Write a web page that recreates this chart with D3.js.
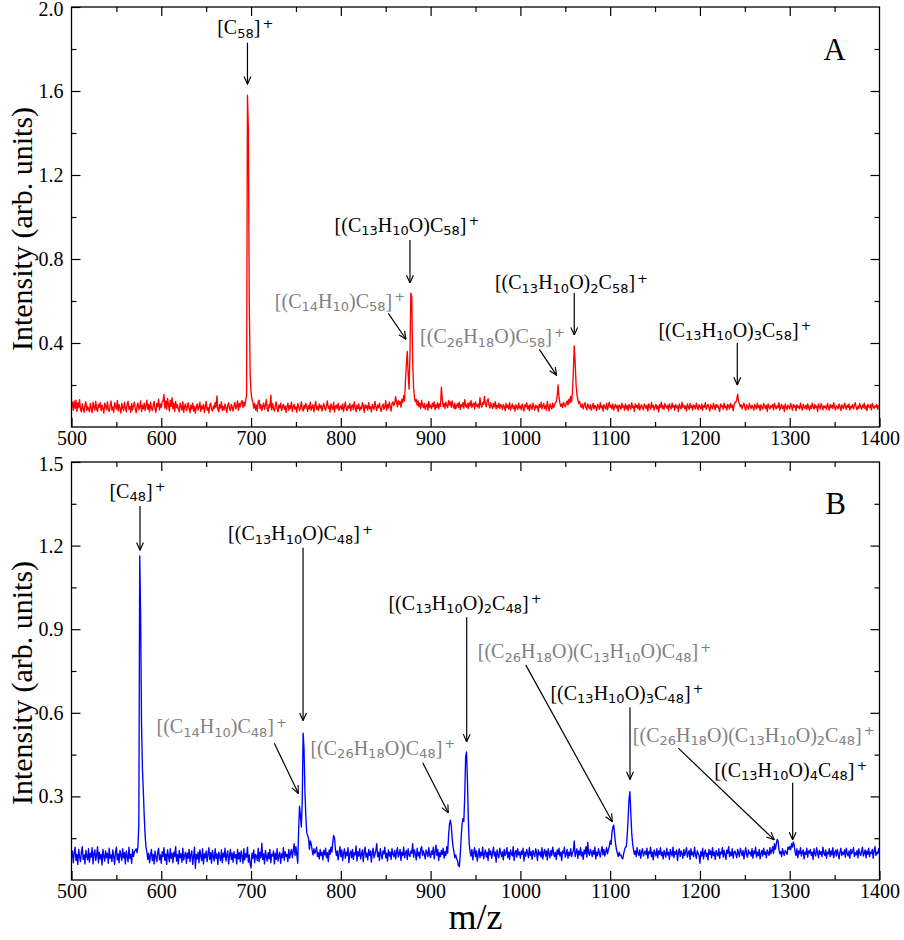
<!DOCTYPE html>
<html><head><meta charset="utf-8">
<script src="https://cdn.jsdelivr.net/npm/d3@7"></script>
<style>body{margin:0;background:#fff}</style></head>
<body><svg id="chart" width="904" height="940"></svg>
<script>
// ---------------- DATA ----------------
const MZ_START = 500;            // m/z of the first point, one point per m/z unit
// Spectrum A (red), intensity x 1e-3 (arb. units), m/z 500..1400
const intensA = [
96,118,80,124,88,128,74,115,92,130,84,72,110,88,70,105,120,78,98,86,
72,112,90,68,118,96,80,122,86,74,108,94,116,78,104,88,66,114,98,82,
120,86,74,100,124,80,96,70,116,98,84,126,76,106,90,66,112,94,78,118,
92,72,108,122,84,98,70,112,80,102,118,88,68,100,114,82,96,124,74,104,
86,114,78,98,128,84,106,72,118,92,78,102,122,88,70,112,96,132,82,110,
94,120,126,155,90,124,84,136,108,76,128,98,140,86,114,74,122,92,106,84,
72,114,98,80,120,70,100,110,78,94,116,88,68,104,86,114,76,98,66,92,
110,80,96,118,74,100,86,108,70,96,122,80,92,66,104,114,84,76,100,88,
116,94,148,84,72,106,90,120,78,98,82,110,94,70,102,116,86,78,108,94,
76,104,118,86,98,124,80,112,96,120,126,92,118,100,128,150,1580,1420,600,250,
165,132,118,90,112,82,104,74,122,128,88,108,78,98,114,84,102,130,86,74,
106,94,152,82,112,90,76,100,120,86,72,104,90,114,78,96,108,84,100,70,
94,114,80,102,88,118,74,98,108,84,96,70,112,98,78,92,120,86,76,104,
88,114,96,74,102,86,118,80,94,106,72,100,122,84,98,78,110,90,104,76,
96,112,86,80,104,124,88,100,72,110,94,84,118,72,98,104,86,114,78,94,
100,84,110,74,96,118,88,78,102,90,112,76,98,106,82,120,94,72,104,88,
110,78,96,86,116,100,70,106,90,102,80,116,88,98,72,108,94,84,122,98,
78,104,92,114,86,74,100,110,84,96,126,80,106,90,118,98,76,112,120,102,
114,145,118,96,126,108,122,94,132,116,150,124,220,300,360,250,180,350,637,620,
310,190,140,120,132,104,126,96,114,88,126,104,92,112,84,100,110,80,122,94,
104,88,114,96,120,82,106,92,116,86,110,98,190,134,96,112,88,118,102,92,
126,104,120,94,124,100,88,114,86,102,112,92,118,84,106,96,116,90,130,100,
94,112,88,116,100,126,92,108,114,86,120,102,96,110,90,140,106,94,116,108,
146,112,96,122,135,104,90,116,100,88,112,96,120,86,104,92,114,88,108,100,
84,108,98,78,112,92,104,86,116,80,96,110,88,102,76,106,94,84,114,90,
100,82,110,92,76,106,96,116,86,102,78,108,94,84,114,98,80,104,92,100,
74,108,94,118,86,100,112,88,102,80,122,96,76,110,98,86,114,92,104,116,
120,150,200,142,114,98,110,92,118,106,96,114,124,104,132,114,146,120,162,262,
386,305,205,152,132,112,122,100,94,110,86,104,116,92,82,110,98,88,106,80,
96,112,86,104,94,78,108,98,84,116,92,102,76,106,96,86,114,82,98,118,
94,104,86,110,80,98,108,90,102,74,106,96,84,114,94,100,80,110,88,102,
78,108,96,84,116,92,100,74,110,94,104,86,112,80,98,106,92,82,110,100,
88,104,76,110,96,84,116,94,104,80,98,108,86,100,72,106,94,118,88,102,
84,112,98,90,104,78,110,96,86,114,94,102,80,108,92,100,74,110,96,86,
118,94,104,88,100,76,110,96,84,112,92,102,80,106,98,86,114,94,82,106,
96,86,110,80,102,94,116,84,100,108,92,76,106,96,86,112,100,82,108,94,
104,88,74,110,96,102,84,114,92,100,80,108,98,86,112,94,104,78,106,116,
118,132,156,122,108,96,106,86,102,114,92,80,106,96,84,112,98,88,104,94,
80,108,96,86,114,92,102,78,106,94,84,112,98,88,104,74,110,96,86,102,
94,106,82,112,98,86,102,92,116,80,96,108,88,100,74,110,94,84,104,96,
86,112,98,80,108,94,102,78,106,92,100,86,114,94,80,108,96,88,104,84,
110,94,80,102,88,114,96,84,108,92,100,74,110,96,86,112,98,82,102,92,
100,84,112,96,80,108,92,104,88,116,94,82,102,96,86,110,98,78,106,94,
88,114,100,84,104,94,110,80,98,92,108,86,102,116,94,82,100,88,112,96,
84,104,94,114,86,100,78,108,96,92,106,82,112,98,88,102,94,108,84,100,
96];
// Spectrum B (blue), intensity x 1e-3 (arb. units), m/z 500..1400
const intensB = [
80,104,62,96,118,70,92,56,110,84,66,100,120,74,90,58,106,86,72,112,
64,96,82,116,58,94,108,70,88,120,62,100,76,92,54,110,86,68,104,80,
96,60,114,78,90,66,108,84,56,100,118,72,94,62,106,88,70,112,80,98,
58,104,86,66,118,78,92,60,110,84,100,106,112,98,120,200,1163,950,560,400,
320,230,160,118,100,74,96,62,88,110,70,92,58,104,82,66,98,114,72,90,
60,102,84,116,70,94,56,108,86,66,112,78,96,62,100,84,120,68,92,58,
106,80,94,64,114,72,88,100,60,96,78,110,66,90,104,56,84,118,42,92,
76,100,62,108,86,70,112,58,94,80,104,66,90,116,74,98,60,106,84,68,
112,78,94,56,100,86,70,108,62,96,82,114,68,90,104,58,88,110,74,96,
64,102,80,92,58,110,76,98,66,104,86,60,112,72,94,82,118,64,90,56,
44,96,78,108,62,92,86,70,114,66,100,80,132,74,94,58,106,84,68,98,
76,110,62,92,86,104,58,96,74,112,68,88,100,60,94,80,116,70,102,84,
92,66,110,78,96,110,80,104,130,88,120,90,60,180,265,230,190,280,527,470,
320,230,170,160,150,110,140,130,108,90,112,96,104,118,84,98,76,110,88,100,
72,106,90,114,80,98,66,108,92,118,100,134,160,150,110,88,104,72,96,120,
84,108,70,96,112,78,100,88,116,62,94,104,80,110,74,98,90,122,68,102,
86,112,76,94,108,66,100,118,82,96,72,110,88,104,64,98,114,80,92,106,
130,84,100,70,112,90,76,104,94,118,80,96,68,108,86,100,74,112,92,84,
106,76,98,116,82,94,110,70,100,88,118,80,96,106,74,112,90,84,104,96,
130,82,108,94,72,114,86,100,78,110,120,88,104,92,76,108,96,84,116,90,
80,104,92,118,76,100,125,88,110,70,98,84,106,92,114,78,102,88,120,96,
160,200,215,195,150,120,100,80,90,76,70,52,48,90,150,200,220,210,300,440,
460,360,220,130,100,86,110,72,98,116,84,104,68,92,112,80,100,88,118,76,
94,108,82,100,70,112,90,104,78,96,118,86,100,64,108,92,80,114,98,84,
102,72,110,88,96,116,80,100,74,108,94,86,120,70,98,106,82,112,90,100,
78,104,92,114,68,100,86,110,96,80,116,88,102,74,106,94,84,112,98,70,
108,90,100,82,116,76,98,110,86,104,72,112,94,80,106,88,118,96,84,100,
74,108,92,114,86,100,70,104,96,118,82,94,110,78,100,88,112,84,96,106,
140,84,98,112,78,104,90,116,86,100,74,108,94,120,82,135,96,88,110,100,
84,106,92,118,76,100,88,112,96,82,104,120,90,110,86,100,116,94,108,120,
140,128,170,190,197,160,130,110,96,84,100,88,90,80,76,94,108,118,120,160,
220,290,317,240,170,130,110,92,104,84,116,96,88,108,78,100,112,86,96,104,
90,114,78,102,94,118,84,100,72,108,96,86,112,80,104,92,116,88,100,76,
106,94,82,114,90,100,74,110,96,86,118,80,102,92,108,70,98,112,84,104,
94,78,110,88,100,116,82,96,106,74,112,90,100,84,118,92,78,104,96,88,
60,102,86,114,76,98,108,84,96,72,110,92,104,80,116,88,100,74,106,94,
86,112,78,100,94,116,82,106,90,74,108,96,120,84,100,88,112,78,98,104,
92,80,110,96,84,114,100,88,106,76,98,116,90,82,108,94,100,86,112,78,
104,94,118,82,100,88,110,76,96,106,86,114,92,100,80,108,98,88,116,94,
104,120,96,130,110,128,146,140,110,94,102,84,112,96,88,106,100,92,118,110,
120,108,130,118,137,125,100,88,112,80,104,94,116,86,98,108,76,100,92,114,
82,104,96,110,88,100,74,112,94,86,116,98,80,106,92,102,84,118,96,88,
108,78,100,94,112,84,104,90,116,80,98,106,86,110,94,76,102,114,88,100,
92,108,82,114,96,86,104,78,110,94,100,116,84,98,90,106,80,112,96,88,
102,118,86,96,108,80,104,92,114,84,100,96,110,78,106,120,88,100,94,112,
96];

const xTicks  = [500,600,700,800,900,1000,1100,1200,1300,1400];
const xMinor  = [550,650,750,850,950,1050,1150,1250,1350];
const yTicksA = [0.4,0.8,1.2,1.6,2.0];
const yMinorA = [0.2,0.6,1.0,1.4,1.8];
const yTicksB = [0.3,0.6,0.9,1.2,1.5];
const yMinorB = [0.15,0.45,0.75,1.05,1.35];
const panelNames = ["A","B"];
const xTitle = "m/z";
const yTitle = "Intensity (arb. units)";

// peak labels (text)
const labelsA = ["[C_{58}]^+","[(C_{13}H_{10}O)C_{58}]^+","[(C_{14}H_{10})C_{58}]^+",
                 "[(C_{26}H_{18}O)C_{58}]^+","[(C_{13}H_{10}O)_2C_{58}]^+","[(C_{13}H_{10}O)_3C_{58}]^+"];
const labelsB = ["[C_{48}]^+","[(C_{13}H_{10}O)C_{48}]^+","[(C_{13}H_{10}O)_2C_{48}]^+",
                 "[(C_{14}H_{10})C_{48}]^+","[(C_{26}H_{18}O)C_{48}]^+","[(C_{26}H_{18}O)(C_{13}H_{10}O)C_{48}]^+",
                 "[(C_{13}H_{10}O)_3C_{48}]^+","[(C_{26}H_{18}O)(C_{13}H_{10}O)_2C_{48}]^+","[(C_{13}H_{10}O)_4C_{48}]^+"];
const minorSpeciesA = [false,false,true,true,false,false];
const minorSpeciesB = [false,false,false,true,true,true,false,true,false];

// ---------------- LAYOUT (annotation placement in data coordinates) ----------------
// [textX, textY, arrowTailX, arrowTailY, arrowTipX, arrowTipY]
const placeA = [
  [693.5,1.871, 696,1.83, 696,1.633],
  [873.7,0.929, 877,0.890, 877,0.686],
  [799.1,0.567, 852.9,0.541, 872.6,0.418],
  [968.9,0.400, 1021.1,0.370, 1040.4,0.246],
  [1056.9,0.657, 1060,0.638, 1060,0.438],
  [1239,0.429, 1241.6,0.40, 1241.6,0.20]
];
const placeB = [
  [573.5,1.371, 576.3,1.342, 576.3,1.184],
  [755.1,1.220, 757.9,1.192, 757.9,0.572],
  [938.3,0.969, 940.2,0.943, 940.2,0.496],
  [667.3,0.527, 725.9,0.491, 752.6,0.311],
  [846.8,0.449, 891.2,0.421, 919.7,0.241],
  [1082.5,0.796, 1005.9,0.772, 1102.4,0.209],
  [1118.7,0.646, 1122.1,0.620, 1122.1,0.361],
  [1259.9,0.496, 1175.9,0.473, 1282.8,0.144],
  [1301.3,0.371, 1303.3,0.349, 1303.3,0.144]
];

const SERIF = "'Liberation Serif','Times New Roman',serif";
const svg = d3.select("#chart");
svg.append("rect").attr("width",904).attr("height",940).attr("fill","#fff");

const defs = svg.append("defs");
defs.append("marker").attr("id","ah").attr("viewBox","0 0 10 10")
  .attr("refX",9.5).attr("refY",5).attr("markerWidth",9).attr("markerHeight",9)
  .attr("markerUnits","userSpaceOnUse").attr("orient","auto")
  .append("path").attr("d","M1,1.2 L9.5,5 L1,8.8").attr("fill","none")
  .attr("stroke","#000").attr("stroke-width",1.3);

const x = d3.scaleLinear().domain([500,1400]).range([71.5,879.5]);

const panels = [
  {name:panelNames[0], top:7,   bottom:427, ymax:2.0, ticks:yTicksA, minor:yMinorA,
   data:intensA, color:"#ff0000", labels:labelsA, grey:minorSpeciesA, place:placeA, tag:[1350,1.75], ytitleY:229},
  {name:panelNames[1], top:462, bottom:880, ymax:1.5, ticks:yTicksB, minor:yMinorB,
   data:intensB, color:"#0000ff", labels:labelsB, grey:minorSpeciesB, place:placeB, tag:[1351,1.313], ytitleY:683}
];

function rich(g, str, px, py, color){
  const t = g.append("text").attr("x",px).attr("y",py).attr("text-anchor","middle")
    .attr("fill",color).style("font-family",SERIF).style("font-size","20px");
  const re = /_\{([^}]*)\}|_(.)|\^\{([^}]*)\}|\^(.)|([^_^]+)/g;
  let m, shift = 0;
  while((m = re.exec(str))){
    let txt, s = 0, small = false, dx = 0;
    if(m[1]!==undefined || m[2]!==undefined){ txt = m[1]!==undefined?m[1]:m[2]; s = 3.5; small = true; }
    else if(m[3]!==undefined || m[4]!==undefined){ txt = m[3]!==undefined?m[3]:m[4]; s = -6.5; small = true; dx = 2; }
    else txt = m[5];
    const ts = t.append("tspan").text(txt).attr("dy", s - shift);
    if(dx) ts.attr("dx", dx);
    if(small) ts.style("font-family","'DejaVu Sans',sans-serif").style("font-size","13px");
    shift = s;
  }
}

function styleAxis(g){
  g.select(".domain").remove();
  g.selectAll(".tick line").attr("stroke","#000").attr("stroke-width",1.2);
  g.selectAll("text").style("font-family",SERIF).style("font-size","20px").attr("fill","#000");
  return g;
}

panels.forEach(p => {
  const y = d3.scaleLinear().domain([0,p.ymax]).range([p.bottom,p.top]);
  const g = svg.append("g");

  // spectrum line
  const pts = p.data.map((v,i) => [MZ_START + i, v/1000]);
  g.append("path").datum(pts)
    .attr("d", d3.line().x(d=>x(d[0])).y(d=>y(d[1])))
    .attr("fill","none").attr("stroke",p.color).attr("stroke-width",1.35)
    .attr("stroke-linejoin","round");

  // axes: inward ticks on all four sides
  styleAxis(g.append("g").attr("transform",`translate(0,${p.bottom})`)
    .call(d3.axisBottom(x).tickValues(xTicks).tickSize(-9).tickSizeOuter(0).tickPadding(4).tickFormat(d3.format("d"))));
  styleAxis(g.append("g").attr("transform",`translate(0,${p.bottom})`)
    .call(d3.axisBottom(x).tickValues(xMinor).tickSize(-5).tickSizeOuter(0).tickFormat("")));
  styleAxis(g.append("g").attr("transform",`translate(0,${p.top})`)
    .call(d3.axisTop(x).tickValues(xTicks.slice(1,-1)).tickSize(-9).tickSizeOuter(0).tickFormat("")));
  styleAxis(g.append("g").attr("transform",`translate(0,${p.top})`)
    .call(d3.axisTop(x).tickValues(xMinor).tickSize(-5).tickSizeOuter(0).tickFormat("")));
  const left = styleAxis(g.append("g").attr("transform",`translate(${x.range()[0]},0)`)
    .call(d3.axisLeft(y).tickValues(p.ticks).tickSize(-9).tickSizeOuter(0).tickPadding(8).tickFormat(d3.format(".1f"))));
  left.selectAll(".tick text").filter(d => d === p.ymax).attr("dy","0.42em");
  styleAxis(g.append("g").attr("transform",`translate(${x.range()[0]},0)`)
    .call(d3.axisLeft(y).tickValues(p.minor).tickSize(-5).tickSizeOuter(0).tickFormat("")));
  styleAxis(g.append("g").attr("transform",`translate(${x.range()[1]},0)`)
    .call(d3.axisRight(y).tickValues(p.ticks.slice(0,-1)).tickSize(-9).tickSizeOuter(0).tickFormat("")));
  styleAxis(g.append("g").attr("transform",`translate(${x.range()[1]},0)`)
    .call(d3.axisRight(y).tickValues(p.minor).tickSize(-5).tickSizeOuter(0).tickFormat("")));

  // frame
  g.append("rect").attr("x",x.range()[0]).attr("y",p.top)
    .attr("width",x.range()[1]-x.range()[0]).attr("height",p.bottom-p.top)
    .attr("fill","none").attr("stroke","#000").attr("stroke-width",1.3);

  // annotations
  p.labels.forEach((lab,i) => {
    const [tx,ty,ax1,ay1,ax2,ay2] = p.place[i];
    const col = p.grey[i] ? "#808080" : "#000";
    rich(g, lab, x(tx), y(ty), col);
    g.append("line").attr("x1",x(ax1)).attr("y1",y(ay1)).attr("x2",x(ax2)).attr("y2",y(ay2))
      .attr("stroke","#000").attr("stroke-width",1.2).attr("marker-end","url(#ah)");
  });

  // panel tag
  g.append("text").attr("x",x(p.tag[0])).attr("y",y(p.tag[1])).attr("text-anchor","middle")
    .style("font-family",SERIF).style("font-size","31px").text(p.name);

  // y title
  svg.append("text").attr("transform",`translate(32,${p.ytitleY}) rotate(-90)`)
    .attr("text-anchor","middle").style("font-family",SERIF).style("font-size","30px").text(yTitle);
});

svg.append("text").attr("x",(x.range()[0]+x.range()[1])/2).attr("y",929).attr("text-anchor","middle")
  .style("font-family",SERIF).style("font-size","36px").text(xTitle);
</script>
</body></html>
